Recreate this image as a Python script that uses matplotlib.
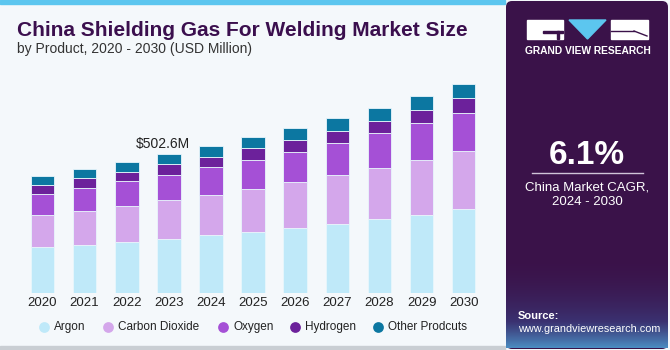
import numpy as np
import matplotlib.pyplot as plt
from matplotlib.patches import Rectangle, Polygon, FancyBboxPatch

plt.rcParams['font.family'] = ['Liberation Sans', 'DejaVu Sans']

# data (USD Million)
years = ["2020", "2021", "2022", "2023", "2024", "2025",
         "2026", "2027", "2028", "2029", "2030"]
argon = [165, 175, 184, 196, 210, 222, 236, 251, 268, 283, 304]
carbon_dioxide = [116, 123, 130, 139, 145, 155, 164, 175, 184, 197, 209]
oxygen = [78, 83, 90, 91.5, 100, 105, 110, 117, 125, 134, 138]
hydrogen = [31, 33, 34, 39, 38, 41, 44, 44, 46, 49, 54]
other = [33, 34, 35, 37, 39, 40, 41, 45, 47, 50, 50]

series_names = ["Argon", "Carbon Dioxide", "Oxygen", "Hydrogen", "Other Prodcuts"]
series_colors = ["#bfe9f9", "#d4a7eb", "#a550d6", "#6c219b", "#0c77a1"]
annot_year = "2023"
annot_text = "$502.6M"
cagr = "6.1%"

W, H = 670, 350
fig = plt.figure(figsize=(W / 100, H / 100), dpi=100)
fig.patch.set_facecolor("#f4f8fb")

# background decorations in pixel coords
bg = fig.add_axes([0, 0, 1, 1])
bg.set_xlim(0, W)
bg.set_ylim(H, 0)
bg.axis("off")
bg.add_patch(Rectangle((0, 0), 505, 4, color="#5cc6ef"))
bg.add_patch(Rectangle((0, 346), 505, 4, color="#c9ced3"))

# right panel with a soft gradient at the bottom
bg.add_patch(FancyBboxPatch((506, 1), 162, 348, boxstyle="round,pad=0,rounding_size=6",
                            fc="#3a1249", ec="none"))
cmap = plt.matplotlib.colors.LinearSegmentedColormap.from_list(
    "g", ["#3a1249", "#3a3170", "#4b8fc4"])
for k in range(255, 348):
    f = ((k - 255) / 93) ** 2
    bg.add_patch(Rectangle((506, k), 162, 1.05, color=cmap(f), lw=0, zorder=1))

# logo
bg.add_patch(Rectangle((527, 20), 36, 19, color="white", zorder=3))
bg.add_patch(Rectangle((543, 31), 20, 2, color="#3a1249", zorder=4))
bg.add_patch(Rectangle((557, 31), 2, 8, color="#3a1249", zorder=4))
bg.add_patch(Polygon([(569, 20), (606, 20), (587.5, 39)], color="#5cc6ef", zorder=3))
bg.add_patch(Rectangle((611, 20), 37, 19, color="white", zorder=3))
bg.plot([634, 647], [31, 36], color="#3a1249", lw=1, zorder=4)
bg.plot([611, 634], [31, 31], color="#3a1249", lw=1, zorder=4)
bg.text(587.5, 50.5, "GRAND VIEW RESEARCH", color="white", fontsize=7.4,
        fontweight="bold", ha="center", va="center", zorder=4)

bg.text(587, 155, cagr, color="white", fontsize=24, fontweight="bold",
        ha="center", va="center", zorder=4)
bg.plot([532, 643], [173, 173], color="#cfc4d8", lw=1, zorder=4)
bg.text(587, 187, "China Market CAGR,", color="white", fontsize=9.5,
        ha="center", va="center", zorder=4)
bg.text(587, 202, "2024 - 2030", color="white", fontsize=9.5,
        ha="center", va="center", zorder=4)
bg.text(518, 316, "Source:", color="white", fontsize=8, fontweight="bold",
        ha="left", va="center", zorder=4)
bg.text(518, 329, "www.grandviewresearch.com", color="white", fontsize=7.8,
        ha="left", va="center", zorder=4)

# title
bg.text(17, 30, "China Shielding Gas For Welding Market Size", color="#3b0f4e",
        fontsize=15, fontweight="bold", ha="left", va="center")
bg.text(17, 49, "by Product, 2020 - 2030 (USD Million)", color="#333333",
        fontsize=10, ha="left", va="center")

# bar chart
ax = fig.add_axes([20 / W, 57 / H, 465 / W, 213 / H])
ax.patch.set_alpha(0)
x = np.arange(len(years))
data = [argon, carbon_dioxide, oxygen, hydrogen, other]
bottom = np.zeros(len(years))
for vals, name, col in zip(data, series_names, series_colors):
    ax.bar(x, vals, 0.56, bottom=bottom, color=col, label=name,
           edgecolor="#e8f6fc", linewidth=0.6)
    bottom += np.array(vals)

i = years.index(annot_year)
ax.text(x[i] - 0.15, bottom[i] + 12, annot_text, ha="center", va="bottom",
        fontsize=10, color="#222222")

ax.set_xlim(-0.534, 10.506)
ax.set_ylim(0, 770)
ax.set_xticks(x)
ax.set_xticklabels(years, fontsize=9.5, color="#222222")
ax.tick_params(axis="x", length=0, pad=3)
ax.set_yticks([])
for s in ax.spines.values():
    s.set_visible(False)

# legend row: round marker + label
legend_x = [54, 118, 233, 305, 388]
for lx, name, col in zip(legend_x, series_names, series_colors):
    bg.scatter([lx - 10], [327], s=60, color=col, zorder=5, linewidths=0)
    bg.text(lx, 327, name, fontsize=8.5, color="#222222", ha="left", va="center")

fig.savefig("out.png", dpi=100, facecolor=fig.get_facecolor())
